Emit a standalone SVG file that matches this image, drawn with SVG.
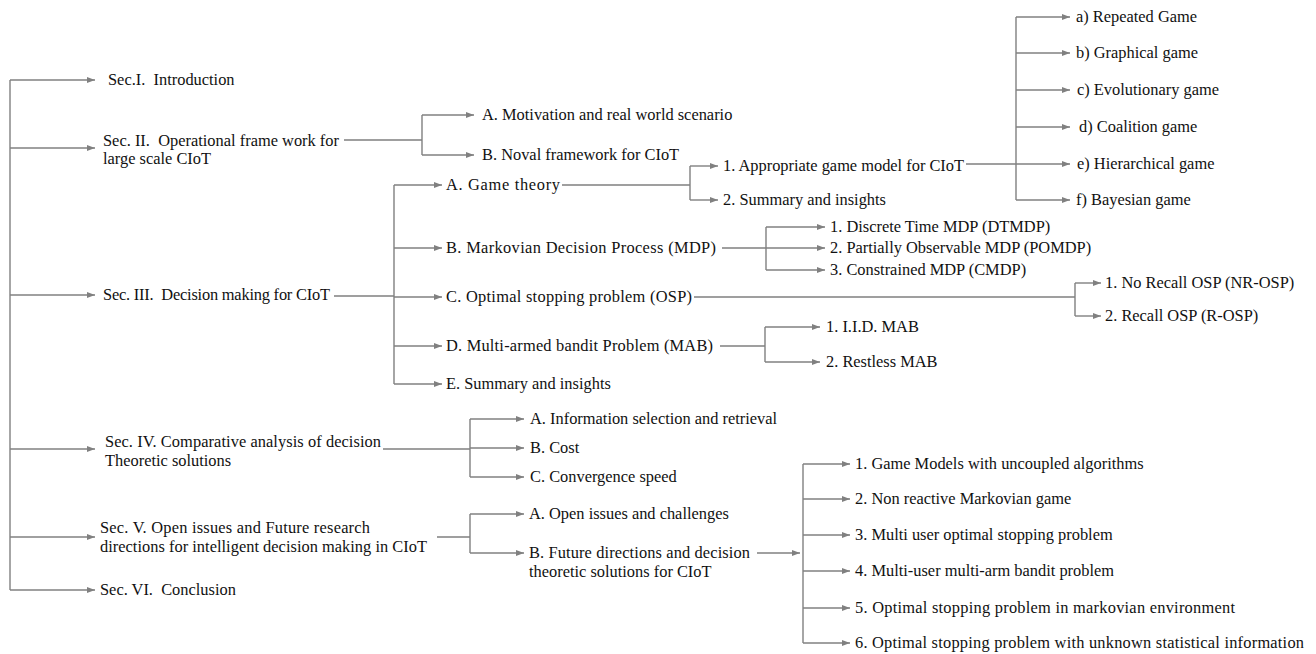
<svg xmlns="http://www.w3.org/2000/svg" width="1316" height="654" viewBox="0 0 1316 654">
<style>
.t text{font-family:'Liberation Serif','Times New Roman','DejaVu Serif',serif;font-size:16.4px;fill:#111;white-space:pre}
.c path{stroke:#808080;stroke-width:1.4;fill:none}
.c path.a{marker-end:url(#ah)}
</style>
<defs>
<marker id="ah" markerUnits="userSpaceOnUse" markerWidth="9" markerHeight="7" refX="8" refY="3" orient="auto"><path d="M0,0 L8,3 L0,6 z" fill="#808080"/></marker>
</defs>
<rect width="1316" height="654" fill="#fff"/>
<g class="c" id="connectors">
<path d="M10,80 V590"/>
<path class="a" d="M10,80 H95"/><path class="a" d="M10,148 H95"/><path class="a" d="M10,295 H95"/><path class="a" d="M10,449 H95"/><path class="a" d="M10,537 H95"/><path class="a" d="M10,590 H95"/>
<path d="M344,140 H422 M422,115 V155"/>
<path class="a" d="M422,115 H474"/><path class="a" d="M422,155 H474"/>
<path d="M334,296 H394 M394,185 V384"/>
<path class="a" d="M394,185 H442"/><path class="a" d="M394,248 H442"/><path class="a" d="M394,297 H442"/><path class="a" d="M394,346 H442"/><path class="a" d="M394,384 H442"/>
<path d="M562,185 H690 M690,166 V200"/>
<path class="a" d="M690,166 H718"/><path class="a" d="M690,200 H718"/>
<path d="M966,164 H1016 M1016,17 V200"/>
<path class="a" d="M1016,17 H1070"/><path class="a" d="M1016,53 H1070"/><path class="a" d="M1016,90 H1070"/><path class="a" d="M1016,127 H1070"/><path class="a" d="M1016,164 H1070"/><path class="a" d="M1016,200 H1070"/>
<path d="M722,248 H766 M766,227 V270"/>
<path class="a" d="M766,227 H825"/><path class="a" d="M766,248 H825"/><path class="a" d="M766,270 H825"/>
<path d="M694,297 H1075 M1075,283 V316"/>
<path class="a" d="M1075,283 H1101"/><path class="a" d="M1075,316 H1101"/>
<path d="M720,346 H765 M765,327 V362"/>
<path class="a" d="M765,327 H820"/><path class="a" d="M765,362 H820"/>
<path d="M383,449 H470 M470,419 V477"/>
<path class="a" d="M470,419 H524"/><path class="a" d="M470,448 H524"/><path class="a" d="M470,477 H524"/>
<path d="M437,537 H470 M470,514 V553"/>
<path class="a" d="M470,514 H524"/><path class="a" d="M470,553 H524"/>
<path class="a" d="M757,553 H800"/>
<path d="M803,464 V643"/>
<path class="a" d="M803,464 H850"/><path class="a" d="M803,499 H850"/><path class="a" d="M803,535 H850"/><path class="a" d="M803,571 H850"/><path class="a" d="M803,608 H850"/><path class="a" d="M803,643 H850"/>
</g>
<g class="t" font-family="Liberation Serif, serif">
<g id="sec1"><text x="108" y="85">Sec.I.  Introduction</text></g>
<g id="sec2"><text x="103" y="146" textLength="236" lengthAdjust="spacing">Sec. II.  Operational frame work for</text><text x="103" y="164">large scale CIoT</text></g>
<g id="sec3"><text x="103" y="300" textLength="227" lengthAdjust="spacing">Sec. III.  Decision making for CIoT</text></g>
<g id="sec4"><text x="105" y="447" textLength="276" lengthAdjust="spacing">Sec. IV. Comparative analysis of decision</text><text x="105" y="466">Theoretic solutions</text></g>
<g id="sec5"><text x="100" y="533" textLength="270" lengthAdjust="spacing">Sec. V. Open issues and Future research</text><text x="100" y="552" textLength="327" lengthAdjust="spacing">directions for intelligent decision making in CIoT</text></g>
<g id="sec6"><text x="100" y="595">Sec. VI.  Conclusion</text></g>
<g id="s2a"><text x="482" y="120">A. Motivation and real world scenario</text></g>
<g id="s2b"><text x="482" y="160">B. Noval framework for CIoT</text></g>
<g id="s3a"><text x="446" y="190" textLength="114" lengthAdjust="spacing">A. Game theory</text></g>
<g id="s3b"><text x="446" y="253" textLength="270" lengthAdjust="spacing">B. Markovian Decision Process (MDP)</text></g>
<g id="s3c"><text x="446" y="302" textLength="246" lengthAdjust="spacing">C. Optimal stopping problem (OSP)</text></g>
<g id="s3d"><text x="446" y="351" textLength="267" lengthAdjust="spacing">D. Multi-armed bandit Problem (MAB)</text></g>
<g id="s3e"><text x="446" y="389">E. Summary and insights</text></g>
<g id="gt1"><text x="723" y="171" textLength="241" lengthAdjust="spacing">1. Appropriate game model for CIoT</text></g>
<g id="gt2"><text x="723" y="205">2. Summary and insights</text></g>
<g id="ga"><text x="1076" y="22">a) Repeated Game</text></g>
<g id="gb"><text x="1076" y="58">b) Graphical game</text></g>
<g id="gc"><text x="1077" y="95">c) Evolutionary game</text></g>
<g id="gd"><text x="1079" y="132">d) Coalition game</text></g>
<g id="ge"><text x="1077" y="169">e) Hierarchical game</text></g>
<g id="gf"><text x="1076" y="205">f) Bayesian game</text></g>
<g id="m1"><text x="830" y="232">1. Discrete Time MDP (DTMDP)</text></g>
<g id="m2"><text x="830" y="253">2. Partially Observable MDP (POMDP)</text></g>
<g id="m3"><text x="830" y="275">3. Constrained MDP (CMDP)</text></g>
<g id="o1"><text x="1105" y="288">1. No Recall OSP (NR-OSP)</text></g>
<g id="o2"><text x="1105" y="321">2. Recall OSP (R-OSP)</text></g>
<g id="b1"><text x="826" y="332">1. I.I.D. MAB</text></g>
<g id="b2"><text x="826" y="367">2. Restless MAB</text></g>
<g id="s4a"><text x="530" y="424">A. Information selection and retrieval</text></g>
<g id="s4b"><text x="530" y="453">B. Cost</text></g>
<g id="s4c"><text x="530" y="482">C. Convergence speed</text></g>
<g id="s5a"><text x="529" y="519">A. Open issues and challenges</text></g>
<g id="s5b"><text x="529" y="558" textLength="221" lengthAdjust="spacing">B. Future directions and decision</text><text x="529" y="577">theoretic solutions for CIoT</text></g>
<g id="f1"><text x="855" y="469">1. Game Models with uncoupled algorithms</text></g>
<g id="f2"><text x="855" y="504">2. Non reactive Markovian game</text></g>
<g id="f3"><text x="855" y="540">3. Multi user optimal stopping problem</text></g>
<g id="f4"><text x="855" y="576">4. Multi-user multi-arm bandit problem</text></g>
<g id="f5"><text x="855" y="613" textLength="380" lengthAdjust="spacing">5. Optimal stopping problem in markovian environment</text></g>
<g id="f6"><text x="855" y="648" textLength="449" lengthAdjust="spacing">6. Optimal stopping problem with unknown statistical information</text></g>
</g>
</svg>
